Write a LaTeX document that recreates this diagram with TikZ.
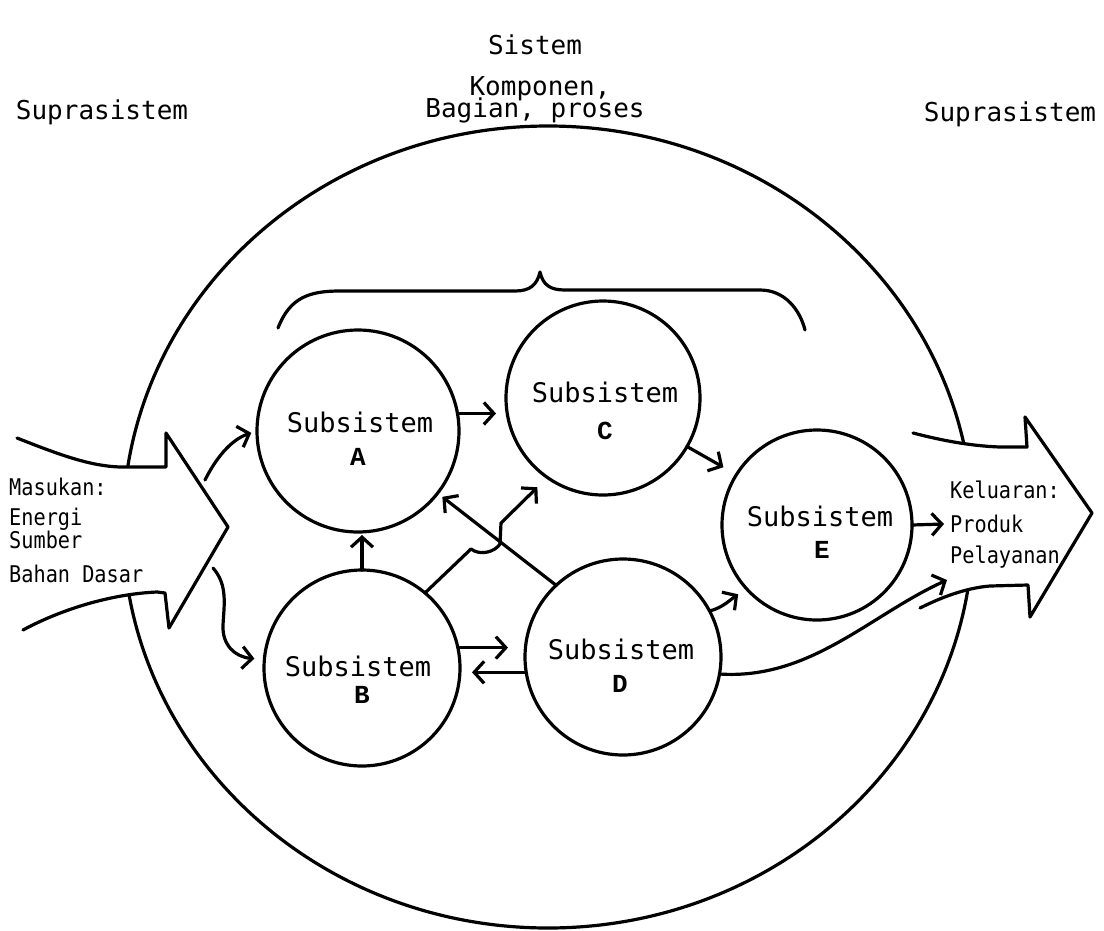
\documentclass[tikz,border=0pt]{standalone}
\usepackage{fontspec}
\newfontfamily\monofnt{DejaVu Sans Mono}
\newfontfamily\smallfnt[FakeStretch=0.88]{DejaVu Sans Mono}
\newfontfamily\letfnt{Liberation Mono}
\usetikzlibrary{arrows.meta,shapes.geometric,calc}
\begin{document}
\begin{tikzpicture}[x=1pt,y=-1pt,
  line join=round, line cap=round,
  lw/.style={line width=3.2pt},
  sub/.style={circle, draw, lw, inner sep=0pt, outer sep=0pt, minimum size=#1},
  arr/.style={lw, -{Straight Barb[length=10pt,width=22pt]}},
  big/.style={font=\monofnt\fontsize{26}{30}\selectfont, inner sep=0pt, anchor=base},
  subtxt/.style={font=\monofnt\fontsize{27}{30}\selectfont, inner sep=0pt, anchor=base},
  letr/.style={font=\letfnt\bfseries\fontsize{26}{28}\selectfont, inner sep=0pt, anchor=base},
  small/.style={font=\smallfnt\fontsize{23}{26}\selectfont, inner sep=0pt, anchor=base west}]
\useasboundingbox (0,0) rectangle (1104,930);
\fill[white] (0,0) rectangle (1104,930);

% system ellipse
\node[ellipse, draw, lw, inner sep=0pt, outer sep=0pt, minimum width=850pt, minimum height=802pt] (sys) at (548,527) {};

% input arrow
\path[fill=white] (17,438) .. controls (60,455) and (90,466) .. (120,467) -- (166,467) -- (166,433) -- (228,527) -- (169,628) -- (165,593) -- (157,592) .. controls (110,594) and (60,610) .. (23,630) -- cycle;
\draw[lw] (17,438) .. controls (60,455) and (90,466) .. (120,467) -- (166,467) -- (166,433) -- (228,527) -- (169,628) -- (165,593) -- (157,592) .. controls (110,594) and (60,610) .. (23,630);

% output arrow
\path[fill=white] (913,433) .. controls (940,440) and (970,446) .. (1000,447) -- (1027,447) -- (1025,417) -- (1092,513) -- (1030,617) -- (1028,585) -- (990,586) .. controls (965,588) and (940,598) .. (920,608) -- cycle;
\draw[lw] (913,433) .. controls (940,440) and (970,446) .. (1000,447) -- (1027,447) -- (1025,417) -- (1092,513) -- (1030,617) -- (1028,585) -- (990,586) .. controls (965,588) and (940,598) .. (920,608);

% brace
\draw[lw] (278,328) .. controls (290,297) and (310,291) .. (340,291) -- (515,291) .. controls (530,291) and (537,285) .. (540,272) .. controls (543,285) and (550,290) .. (565,290) -- (760,290) .. controls (785,290) and (800,310) .. (805,330);

% subsystems
\node[sub=202pt] (A) at (358,431) {};
\node[sub=194pt] (C) at (603,398) {};
\node[sub=190pt] (E) at (817,525) {};
\node[sub=196pt] (B) at (362,668) {};
\node[sub=196pt] (D) at (623,657) {};

% free ends
\coordinate (inA) at (205,480);
\coordinate (inB) at (213,568);
\coordinate (outK) at (944,524);
\coordinate (outD) at (947,580);

% connectors
\draw[arr, shorten >=6pt] (inA) .. controls (215,460) and (230,440) .. (A.west);
\draw[arr, shorten >=10pt] (inB) .. controls (228,585) and (224,605) .. (223,625) .. controls (222,645) and (235,657) .. (B.175);
\draw[arr, shorten >=10pt] (A.10) -- (A.10 -| C.west);
\draw[arr, shorten >=15pt] (C.-30) -- (E.148);
\draw[arr, shorten >=3pt] (B.north) -- (B.north |- A.south);
\draw[arr, shorten >=14pt] (B.50) -- (471,549) .. controls (480,556) and (495,552) .. (500,544) -- (501,523) -- (C.235);
\draw[arr, shorten >=6pt] (D.133) -- (A.-38);
\draw[arr, shorten >=17pt] (B.12) -- (B.12 -| D.west);
\draw[arr, shorten >=12pt] (D.189) -- (D.189 -| B.east);
\draw[arr, shorten >=10pt] (D.28) .. controls (722,608) and (730,600) .. (E.222);
\draw[arr] (E.east) -- (outK);
\draw[arr] (D.-10) .. controls (810,680) and (870,615) .. (outD);

% texts in subsystems
\node[subtxt] (tA) at (360,432) {Subsistem};
\node[letr] (lA) at (358,465) {A};
\node[subtxt] (tC) at (605,402) {Subsistem};
\node[letr] (lC) at (605,439) {C};
\node[subtxt] (tE) at (820,526) {Subsistem};
\node[letr] (lE) at (822,558) {E};
\node[subtxt] (tB) at (358,676) {Subsistem};
\node[letr] (lB) at (362,703) {B};
\node[subtxt] (tD) at (621,659) {Subsistem};
\node[letr] (lD) at (620,692) {D};

% top labels
\node[big] (tSistem) at (535,54) {Sistem};
\node[big] (tKomp) at (540,95) {Komponen,};
\node[big] (tBag) at (535,117) {Bagian, proses};
\node[big] (tSupL) at (102,119) {Suprasistem};
\node[big] (tSupR) at (1010,121) {Suprasistem};

% input / output texts
\node[small] (m1) at (9,495) {Masukan:};
\node[small] (m2) at (9,525) {Energi};
\node[small] (m3) at (9,548) {Sumber};
\node[small] (m4) at (9,582) {Bahan Dasar};
\node[small] (k1) at (950,498) {Keluaran:};
\node[small] (k2) at (950,532) {Produk};
\node[small] (k3) at (950,563) {Pelayanan};
\end{tikzpicture}
\end{document}
